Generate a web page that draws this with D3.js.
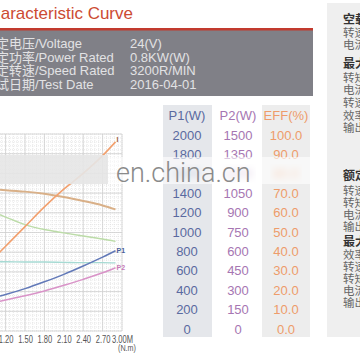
<!DOCTYPE html>
<html><head><meta charset="utf-8">
<script src="https://cdn.jsdelivr.net/npm/d3@7"></script>
<style>body{margin:0;background:#fff}svg{display:block}</style>
</head><body><svg id="c" width="360" height="360"></svg>
<script>
// ---- data ----
const torque    = [1.0, 1.2, 1.5, 1.8, 2.1, 2.4, 2.7, 2.9];      // N.m
const currentA  = [36.5, 43, 53, 63, 72, 80, 89, 96];            // I (A)
const speedRpm  = [2875, 2860, 2830, 2785, 2720, 2640, 2550, 2470];
const effPct    = [60.5, 57.8, 54.0, 51.5, 49.8, 48.2, 46.7, 45.5];
const voltageV  = [24.6, 24.6, 24.5, 24.5, 24.4, 24.3, 24.3, 24.2];
const p1Watts   = [335, 370, 430, 500, 575, 660, 750, 815];
const p2Watts   = [215, 236, 268, 305, 348, 393, 443, 482];

const xTicks    = [1.2, 1.5, 1.8, 2.1, 2.4, 2.7, 3.0];
const p1Ticks   = [2000, 1800, 1600, 1400, 1200, 1000, 800, 600, 400, 200, 0];
const p2Ticks   = [1500, 1350, 1200, 1050, 900, 750, 600, 450, 300, 150, 0];
const effTicks  = ["100.0","90.0","80.0","70.0","60.0","50.0","40.0","30.0","20.0","10.0","0.0"];
const tableHead = ["P1(W)", "P2(W)", "EFF(%)"];

const infoLabels = ["额定电压/Voltage", "额定功率/Power Rated", "额定转速/Speed Rated", "测试日期/Test Date"];
const infoValues = ["24(V)", "0.8KW(W)", "3200R/MIN", "2016-04-01"];
const panelLines = [
  ["空载点", true], ["转速", false], ["电流", false],
  ["最大效率点", true], ["转矩", false], ["电流", false], ["转速", false], ["效率", false], ["输出功率", false],
  ["额定点", true], ["转速", false], ["转矩", false], ["电流", false], ["输出功率", false],
  ["最大输出点", true], ["效率", false], ["转速", false], ["转矩", false], ["电流", false], ["输出功率", false]
];

// ---- drawing ----
const svg = d3.select("#c");
const FONT = "'Liberation Sans', Arial, 'Noto Sans CJK SC', sans-serif";
svg.append("rect").attr("width",360).attr("height",360).attr("fill","#fff");

// title
svg.append("text").attr("x",133).attr("y",19).attr("text-anchor","end")
  .attr("font-family",FONT).attr("font-size",17).attr("fill","#cc4b33")
  .text("Characteristic Curve");

// info box
svg.append("rect").attr("x",-2).attr("y",29).attr("width",315).attr("height",67).attr("fill","#808087");
svg.append("rect").attr("x",-2).attr("y",28).attr("width",315).attr("height",2.5).attr("fill","#c23a2e");
const infoG = svg.append("g").attr("font-family",FONT).attr("font-size",13).attr("fill","#e2e2e4");
infoLabels.forEach((t,i)=>{
  infoG.append("text").attr("x",-17).attr("y",48+i*13.5).text(t);
  infoG.append("text").attr("x",130).attr("y",48+i*13.5).text(infoValues[i]);
});

// right panel
svg.append("rect").attr("x",327).attr("y",3).attr("width",40).attr("height",334).attr("fill","#efefef");
const panelY = [20,33,45, 64,78,90,103,116,128, 176,191,203,215,227, 242,255,267,279,291,303];
const pg = svg.append("g").attr("font-family",FONT);
panelLines.forEach((d,i)=>{
  pg.append("text").attr("x",343).attr("y",panelY[i]+4)
    .attr("font-size",d[1]?12:11.5).attr("font-weight",d[1]?"bold":"normal")
    .attr("fill",d[1]?"#333":"#666").text(d[0]);
});

// chart scales
const x    = d3.scaleLinear().domain([0,3]).range([-72,122]);
const yP1  = d3.scaleLinear().domain([0,2000]).range([331,134]);
const yP2  = d3.scaleLinear().domain([0,1500]).range([331,134]);
const yEff = d3.scaleLinear().domain([0,100]).range([331,134]);
const yI   = d3.scaleLinear().domain([0,100]).range([331,134]);
const yN   = d3.scaleLinear().domain([0,4000]).range([331,134]);
const yU   = d3.scaleLinear().domain([0,70]).range([331,134]);

// grid
const grid = svg.append("g");
const minorX = d3.range(0, 3.0001, 0.06), majorX = d3.range(0, 3.0001, 0.3);
const minorY = d3.range(0, 2000.1, 40), majorY = d3.range(0, 2000.1, 200);
grid.selectAll(".mx").data(minorX).join("line")
  .attr("x1",d=>x(d)).attr("x2",d=>x(d)).attr("y1",yP1(2000)).attr("y2",yP1(0))
  .attr("stroke","#dedede").attr("stroke-width",0.7).attr("stroke-dasharray","1,1");
grid.selectAll(".my").data(minorY).join("line")
  .attr("y1",d=>yP1(d)).attr("y2",d=>yP1(d)).attr("x1",x(0)).attr("x2",x(3))
  .attr("stroke","#dedede").attr("stroke-width",0.7).attr("stroke-dasharray","1,1");
grid.selectAll(".Mx").data(majorX).join("line")
  .attr("x1",d=>x(d)).attr("x2",d=>x(d)).attr("y1",yP1(2000)).attr("y2",yP1(0))
  .attr("stroke","#cfcfcf").attr("stroke-width",0.8);
grid.selectAll(".My").data(majorY).join("line")
  .attr("y1",d=>yP1(d)).attr("y2",d=>yP1(d)).attr("x1",x(0)).attr("x2",x(3))
  .attr("stroke","#cfcfcf").attr("stroke-width",0.8);

// axis
const ax = svg.append("g").attr("transform",`translate(0,${yP1(0)})`)
  .call(d3.axisBottom(x).tickValues(xTicks).tickSize(0).tickPadding(5)
    .tickFormat(d=> d===3 ? "3.00M" : d3.format(".2f")(d)));
ax.select(".domain").remove();
ax.selectAll("text").attr("font-family",FONT)
  .attr("font-size",10.5).attr("fill","#555").attr("transform","scale(0.72,1)");
svg.append("text").attr("x",127).attr("y",351).attr("text-anchor","middle")
  .attr("font-family",FONT).attr("transform-origin","127 351").attr("transform","scale(0.8,1)")
  .attr("font-size",9).attr("fill","#555").text("(N.m)");

// curves
const series = [
  {v:speedRpm, s:yN,   c:"#d9b088", w:2},
  {v:effPct,   s:yEff, c:"#bcdca8", w:1.4},
  {v:voltageV, s:yU,   c:"#a6dad3", w:1.4},
  {v:p2Watts,  s:yP2,  c:"#d993c8", w:1.5},
  {v:p1Watts,  s:yP1,  c:"#6279b8", w:1.5},
  {v:currentA, s:yI,   c:"#f2a06e", w:1.6}
];
series.forEach(S=>{
  const line = d3.line().x((d,i)=>x(torque[i])).y(d=>S.s(d)).curve(d3.curveMonotoneX);
  svg.append("path").attr("d",line(S.v)).attr("fill","none")
    .attr("stroke",S.c).attr("stroke-width",S.w);
});
const last = torque.length-1;
const lab = svg.append("g").attr("font-family",FONT).attr("font-size",7).attr("font-weight","bold");
lab.append("text").attr("x",x(torque[last])+1).attr("y",yI(currentA[last])).attr("fill","#a0603a").text("I");
lab.append("text").attr("x",x(torque[last])+1).attr("y",yP1(p1Watts[last])+2).attr("fill","#4a5f9a").text("P1");
lab.append("text").attr("x",x(torque[last])+1).attr("y",yP2(p2Watts[last])+2).attr("fill","#c87ab8").text("P2");

// table
const rowY = d3.scaleLinear().domain([0,10]).range([135,329]);
svg.append("rect").attr("x",163).attr("y",105).attr("width",49).attr("height",232).attr("fill","#e5e7eb");
svg.append("rect").attr("x",262).attr("y",105).attr("width",48).attr("height",232).attr("fill","#ededed");
const colX = [187, 238, 286];
const colC = ["#5a6aa0", "#a676b2", "#ee9c6a"];
const cols = [p1Ticks, p2Ticks, effTicks];
const defs = svg.append("defs");
defs.append("filter").attr("id","blur").append("feGaussianBlur").attr("stdDeviation",3.5);
const tg = svg.append("g").attr("font-family",FONT).attr("font-size",13).attr("text-anchor","middle");
tableHead.forEach((h,j)=>{
  tg.append("text").attr("x",colX[j]).attr("y",115).attr("dy","0.35em").attr("fill",colC[j]).text(h);
  cols[j].forEach((v,i)=>{
    tg.append("text").attr("x",colX[j]).attr("y",rowY(i)).attr("dy","0.35em")
      .attr("fill",colC[j]).attr("filter", i===2 ? "url(#blur)" : null).text(v);
  });
});

// watermark band
svg.append("rect").attr("x",0).attr("y",155).attr("width",108).attr("height",29).attr("fill","#e6e6e6").attr("opacity",0.9);
svg.append("rect").attr("x",108).attr("y",157).attr("width",219).attr("height",27).attr("fill","#fff").attr("opacity",0.6);
svg.append("text").attr("x",116).attr("y",182).attr("font-family","Roboto, 'Open Sans', sans-serif")
  .attr("font-weight",300).attr("font-size",27).attr("fill","#8a8a8a").text("en.china.cn");
</script></body></html>
